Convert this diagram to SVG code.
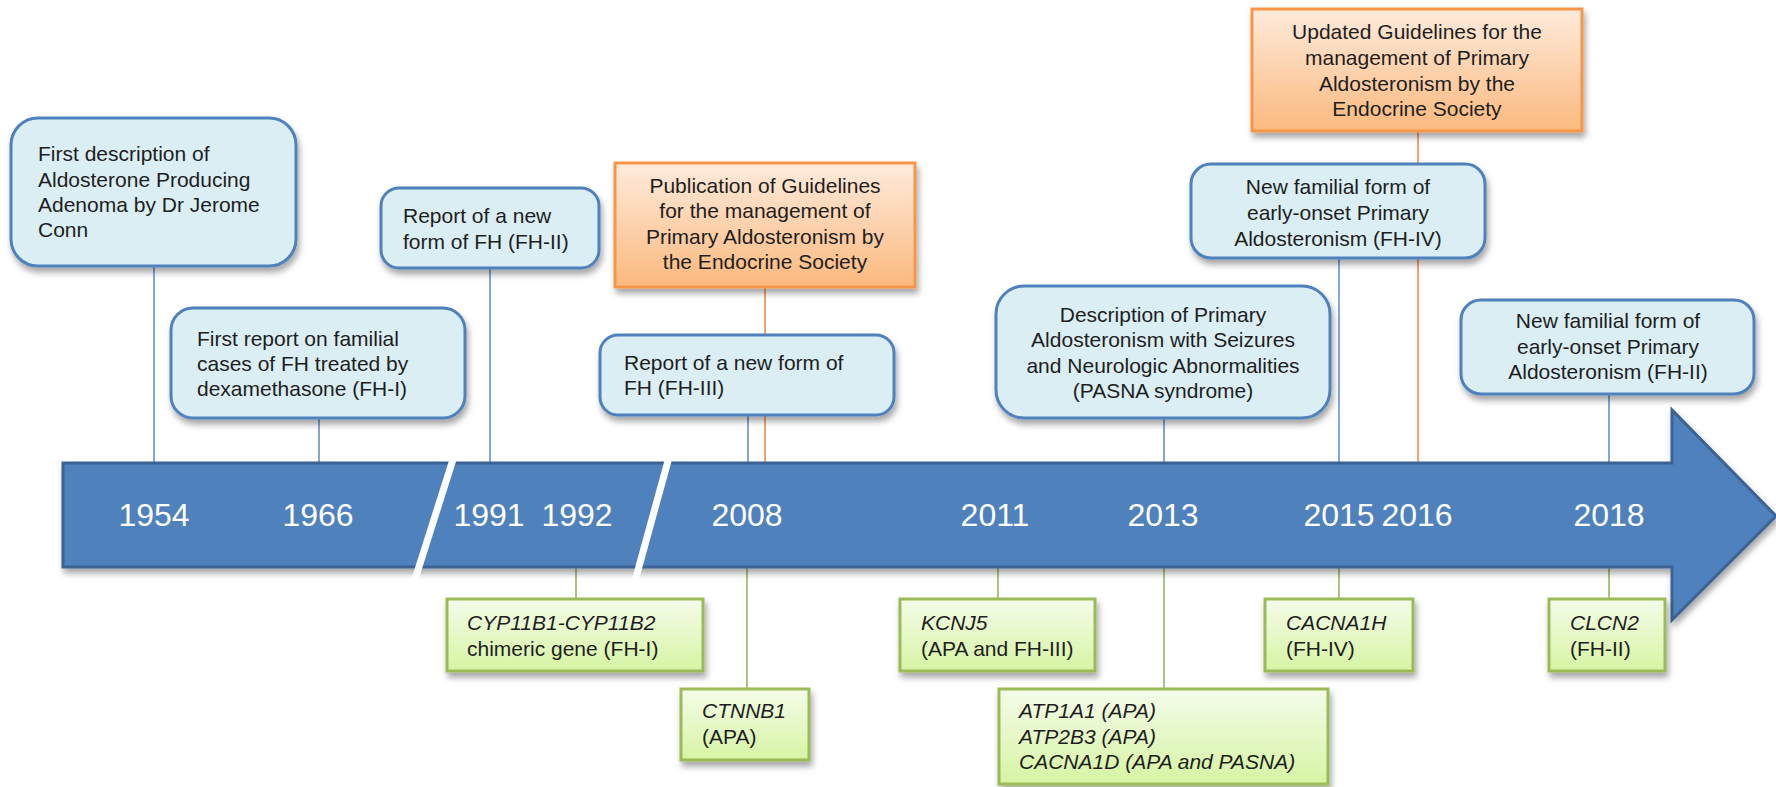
<svg xmlns="http://www.w3.org/2000/svg" width="1776" height="787" viewBox="0 0 1776 787">
<defs>
<filter id="sh" x="-10%" y="-10%" width="120%" height="140%">
<feDropShadow dx="2" dy="5" stdDeviation="3" flood-color="#000" flood-opacity="0.35"/>
</filter>
<linearGradient id="gOr" x1="0" y1="0" x2="0" y2="1">
<stop offset="0" stop-color="#FEEBDC"/>
<stop offset="1" stop-color="#FBB97E"/>
</linearGradient>
<linearGradient id="gGr" x1="0" y1="0" x2="0" y2="1">
<stop offset="0" stop-color="#F4FCEA"/>
<stop offset="1" stop-color="#D6F4A3"/>
</linearGradient>
</defs>
<style>
.blue{fill:#DBEEF4;stroke:#4F81BD;stroke-width:3}
.orange{fill:url(#gOr);stroke:#F79646;stroke-width:3}
.green{fill:url(#gGr);stroke:#9BBB59;stroke-width:3}
.t{font-family:"Liberation Sans",Arial,sans-serif;font-size:21px;fill:#1E1E1E}
.c{text-anchor:middle}
.i{font-style:italic}
.yr{font-family:"Liberation Sans",Arial,sans-serif;font-size:32px;fill:#FFFFFF;text-anchor:middle}
.lb{stroke:#5A8AC8;stroke-width:1.5}
.lo{stroke:#F0833A;stroke-width:1.5}
.lg{stroke:#8FB054;stroke-width:1.5}
</style>

<g id="connectors">
<line class="lb" x1="154" y1="266" x2="154" y2="463"/>
<line class="lb" x1="319" y1="418" x2="319" y2="463"/>
<line class="lb" x1="490" y1="268" x2="490" y2="463"/>
<line class="lb" x1="748" y1="415" x2="748" y2="463"/>
<line class="lo" x1="765" y1="287" x2="765" y2="463"/>
<line class="lb" x1="1164" y1="418" x2="1164" y2="463"/>
<line class="lb" x1="1339" y1="258" x2="1339" y2="463"/>
<line class="lo" x1="1418" y1="131" x2="1418" y2="463"/>
<line class="lb" x1="1609" y1="394" x2="1609" y2="463"/>
<line class="lg" x1="576" y1="567" x2="576" y2="599"/>
<line class="lg" x1="747" y1="567" x2="747" y2="689"/>
<line class="lg" x1="998" y1="567" x2="998" y2="599"/>
<line class="lg" x1="1164" y1="567" x2="1164" y2="689"/>
<line class="lg" x1="1339" y1="567" x2="1339" y2="599"/>
<line class="lg" x1="1609" y1="567" x2="1609" y2="599"/>
</g>

<g id="timeline">
<path d="M63,463 L1672,463 L1672,410 L1776,516 L1672,620 L1672,567 L63,567 Z" fill="#4F81BD" stroke="#3B6394" stroke-width="3" filter="url(#sh)"/>
<line x1="456" y1="450" x2="411" y2="592" stroke="#FFFFFF" stroke-width="7"/>
<line x1="671" y1="450" x2="632" y2="592" stroke="#FFFFFF" stroke-width="7"/>
<text class="yr" x="154" y="526">1954</text>
<text class="yr" x="318" y="526">1966</text>
<text class="yr" x="489" y="526">1991</text>
<text class="yr" x="577" y="526">1992</text>
<text class="yr" x="747" y="526">2008</text>
<text class="yr" x="995" y="526">2011</text>
<text class="yr" x="1163" y="526">2013</text>
<text class="yr" x="1339" y="526">2015</text>
<text class="yr" x="1417" y="526">2016</text>
<text class="yr" x="1609" y="526">2018</text>
</g>

<g id="n1954">
<rect class="blue" x="11" y="118" width="285" height="148" rx="27" filter="url(#sh)"/>
<text class="t" x="38" y="161">First description of</text>
<text class="t" x="38" y="187">Aldosterone Producing</text>
<text class="t" x="38" y="212">Adenoma by Dr Jerome</text>
<text class="t" x="38" y="237">Conn</text>
</g>

<g id="n1966">
<rect class="blue" x="171" y="308" width="294" height="110" rx="22" filter="url(#sh)"/>
<text class="t" x="197" y="346">First report on familial</text>
<text class="t" x="197" y="371">cases of FH treated by</text>
<text class="t" x="197" y="396">dexamethasone (FH-I)</text>
</g>

<g id="n1991">
<rect class="blue" x="381" y="188" width="218" height="80" rx="18" filter="url(#sh)"/>
<text class="t" x="403" y="223">Report of a new</text>
<text class="t" x="403" y="249">form of FH (FH-II)</text>
</g>

<g id="n2008g">
<rect class="orange" x="615" y="163" width="300" height="124" filter="url(#sh)"/>
<text class="t c" x="765" y="193">Publication of Guidelines</text>
<text class="t c" x="765" y="218">for the management of</text>
<text class="t c" x="765" y="244">Primary Aldosteronism by</text>
<text class="t c" x="765" y="269">the Endocrine Society</text>
</g>

<g id="n2008">
<rect class="blue" x="600" y="335" width="294" height="80" rx="18" filter="url(#sh)"/>
<text class="t" x="624" y="370">Report of a new form of</text>
<text class="t" x="624" y="395">FH (FH-III)</text>
</g>

<g id="n2013">
<rect class="blue" x="996" y="286" width="334" height="132" rx="28" filter="url(#sh)"/>
<text class="t c" x="1163" y="322">Description of Primary</text>
<text class="t c" x="1163" y="347">Aldosteronism with Seizures</text>
<text class="t c" x="1163" y="373">and Neurologic Abnormalities</text>
<text class="t c" x="1163" y="398">(PASNA syndrome)</text>
</g>

<g id="n2015">
<rect class="blue" x="1191" y="164" width="294" height="94" rx="20" filter="url(#sh)"/>
<text class="t c" x="1338" y="194">New familial form of</text>
<text class="t c" x="1338" y="220">early-onset Primary</text>
<text class="t c" x="1338" y="246">Aldosteronism (FH-IV)</text>
</g>

<g id="n2016g">
<rect class="orange" x="1252" y="9" width="330" height="122" filter="url(#sh)"/>
<text class="t c" x="1417" y="39">Updated Guidelines for the</text>
<text class="t c" x="1417" y="65">management of Primary</text>
<text class="t c" x="1417" y="91">Aldosteronism by the</text>
<text class="t c" x="1417" y="116">Endocrine Society</text>
</g>

<g id="n2018">
<rect class="blue" x="1461" y="300" width="293" height="94" rx="20" filter="url(#sh)"/>
<text class="t c" x="1608" y="328">New familial form of</text>
<text class="t c" x="1608" y="354">early-onset Primary</text>
<text class="t c" x="1608" y="379">Aldosteronism (FH-II)</text>
</g>

<g id="g1992">
<rect class="green" x="447" y="599" width="256" height="72" filter="url(#sh)"/>
<text class="t i" x="467" y="630">CYP11B1-CYP11B2</text>
<text class="t" x="467" y="656">chimeric gene (FH-I)</text>
</g>

<g id="g2008">
<rect class="green" x="681" y="689" width="128" height="71" filter="url(#sh)"/>
<text class="t i" x="702" y="718">CTNNB1</text>
<text class="t" x="702" y="744">(APA)</text>
</g>

<g id="g2011">
<rect class="green" x="900" y="599" width="195" height="72" filter="url(#sh)"/>
<text class="t i" x="921" y="630">KCNJ5</text>
<text class="t" x="921" y="656">(APA and FH-III)</text>
</g>

<g id="g2013">
<rect class="green" x="999" y="689" width="329" height="95" filter="url(#sh)"/>
<text class="t i" x="1019" y="718">ATP1A1 (APA)</text>
<text class="t i" x="1019" y="744">ATP2B3 (APA)</text>
<text class="t i" x="1019" y="769">CACNA1D (APA and PASNA)</text>
</g>

<g id="g2015">
<rect class="green" x="1265" y="599" width="148" height="72" filter="url(#sh)"/>
<text class="t i" x="1286" y="630">CACNA1H</text>
<text class="t" x="1286" y="656">(FH-IV)</text>
</g>

<g id="g2018">
<rect class="green" x="1549" y="599" width="116" height="72" filter="url(#sh)"/>
<text class="t i" x="1570" y="630">CLCN2</text>
<text class="t" x="1570" y="656">(FH-II)</text>
</g>
</svg>
